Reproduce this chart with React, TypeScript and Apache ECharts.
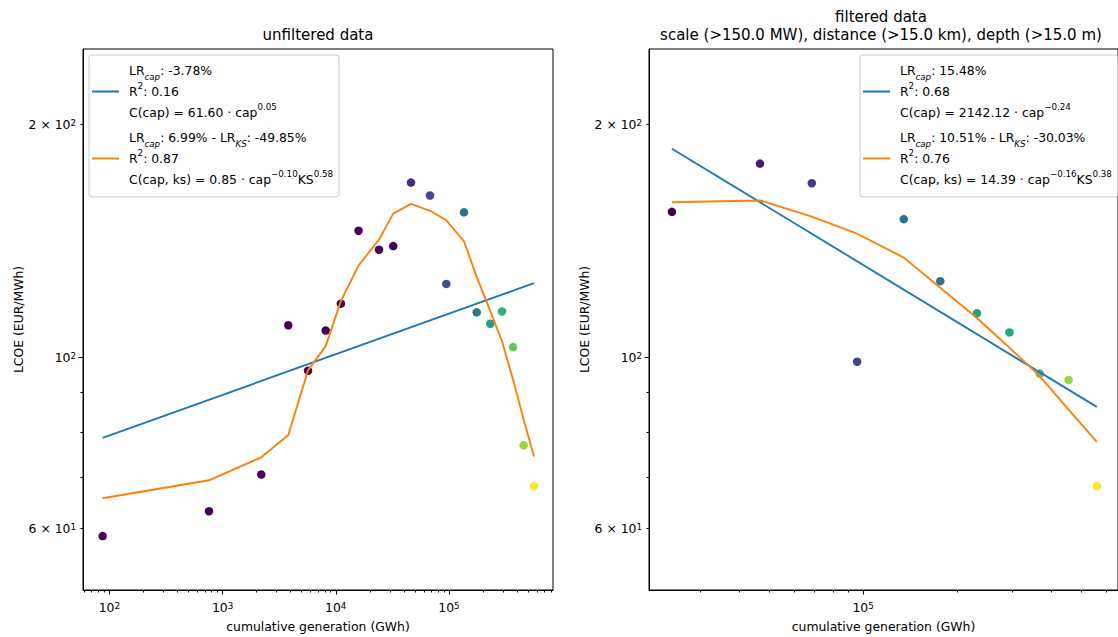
import React, { useEffect, useRef } from "react";
import * as echarts from "echarts";

// ---------------- data: unfiltered panel ----------------
const unfGen = [87.4, 760, 2200, 3810, 5690, 8150, 11100, 15900, 24100, 32200, 46200, 68000, 94700, 135700, 175700, 231600, 293900, 367600, 456800, 563400];
const unfLcoe = [58.7, 63.2, 70.5, 109.9, 96.0, 108.2, 117.2, 145.6, 137.6, 139.1, 168.0, 161.7, 124.3, 153.8, 114.2, 110.4, 114.5, 103.0, 76.9, 68.1];
const unfColour = [0, 0, 0, 0, 0, 0, 0, 0, 0, 0, 0.12, 0.22, 0.26, 0.37, 0.4, 0.56, 0.64, 0.75, 0.84, 1.0];
const unfCapFitGen = [87.4, 563400];
const unfCapFitLcoe = [78.6, 124.6];
const unfCapKsFit = [65.7, 69.3, 74.2, 79.3, 96.1, 103.3, 118.1, 131.3, 141.8, 153.2, 157.7, 154.5, 150.2, 141.1, 126.9, 114.6, 104.8, 93.5, 83.0, 74.4];

// ---------------- data: filtered panel ----------------
const filGen = [24420, 46760, 68530, 95740, 135100, 176800, 231700, 294600, 368300, 455600, 561200];
const filLcoe = [154.0, 177.8, 167.7, 98.6, 150.7, 125.3, 113.9, 107.6, 95.2, 93.4, 68.1];
const filColour = [0, 0.07, 0.17, 0.21, 0.36, 0.38, 0.57, 0.6, 0.69, 0.84, 1.0];
const filCapFitGen = [24420, 561200];
const filCapFitLcoe = [185.8, 86.2];
const filCapKsFit = [158.5, 159.3, 151.8, 144.3, 134.4, 122.9, 112.3, 102.8, 94.5, 85.5, 77.7];

// ---------------- axes ----------------
const yRange = [50, 250];
const unfXRange = [58.6, 829000];
const filXRange = [20620, 656000];
const unfXTickLabels = [1e2, 1e3, 1e4, 1e5];
const filXTickLabels = [1e5];
const yTickLabels = [60, 100, 200];
const yMajorTicks = [100];

// ---------------- texts ----------------
const unfTitle = "unfiltered data";
const filTitle = ["filtered data", "scale (>150.0 MW), distance (>15.0 km), depth (>15.0 m)"];
const xName = "cumulative generation (GWh)";
const yName = "LCOE (EUR/MWh)";
const unfCapLegend = ["LR{sub|cap}: -3.78%", "R{sup|2}: 0.16", "C(cap) = 61.60 · cap{sup|0.05}"];
const unfCapKsLegend = ["LR{sub|cap}: 6.99% - LR{sub|KS}: -49.85%", "R{sup|2}: 0.87", "C(cap, ks) = 0.85 · cap{sup|−0.10}KS{sup|0.58}"];
const filCapLegend = ["LR{sub|cap}: 15.48%", "R{sup|2}: 0.68", "C(cap) = 2142.12 · cap{sup|−0.24}"];
const filCapKsLegend = ["LR{sub|cap}: 10.51% - LR{sub|KS}: -30.03%", "R{sup|2}: 0.76", "C(cap, ks) = 14.39 · cap{sup|−0.16}KS{sup|0.38}"];

const FONT = "DejaVu Sans";
const FS = 12.4;
const BLUE = "#1f77b4";
const ORANGE = "#ff7f0e";
const VIRIDIS = ["#440154", "#482475", "#414487", "#355f8d", "#2a788e", "#21918c", "#22a884", "#44bf70", "#7ad151", "#bddf26", "#fde725"];

const lg = Math.log10;

function minorTicks(range: number[]) {
  const out: number[] = [];
  for (let e = Math.floor(lg(range[0])); e <= Math.ceil(lg(range[1])); e++) {
    for (let m = 2; m <= 9; m++) {
      const v = m * Math.pow(10, e);
      if (v > range[0] && v < range[1]) out.push(v);
    }
  }
  return out;
}

function logLabel(v: number) {
  const e = Math.floor(v + 1e-9);
  const m = Math.round(Math.pow(10, v - e));
  return m === 1 ? `10{sup|${e}}` : `${m} × 10{sup|${e}}`;
}

const labelRich = {
  sup: { fontSize: 8.7, fontFamily: FONT, color: "#000", verticalAlign: "top", lineHeight: 10 },
};

const legendRich = {
  sub: { fontSize: 8.7, fontFamily: FONT, fontStyle: "italic", color: "#000", verticalAlign: "bottom", lineHeight: 11 },
  sup: { fontSize: 8.7, fontFamily: FONT, color: "#000", verticalAlign: "top", lineHeight: 12 },
};

function xAxes(grid: number, range: number[], labels: number[]) {
  const tickStyle = { color: "#000", width: 1 };
  return [
    {
      gridIndex: grid, type: "value", min: lg(range[0]), max: lg(range[1]), position: "bottom",
      axisLine: { show: true, onZero: false, lineStyle: { color: "#000", width: 1 } },
      axisTick: { show: true, customValues: labels.map(lg), length: 4.5, lineStyle: tickStyle },
      axisLabel: { customValues: labels.map(lg), formatter: logLabel, color: "#000", fontFamily: FONT, fontSize: FS, margin: 11, rich: labelRich },
      splitLine: { show: false },
      name: xName, nameLocation: "middle", nameGap: 30,
      nameTextStyle: { fontFamily: FONT, fontSize: FS, color: "#000" },
    },
    {
      gridIndex: grid, type: "value", min: lg(range[0]), max: lg(range[1]), position: "bottom",
      axisLine: { show: false },
      axisTick: { show: true, customValues: minorTicks(range).map(lg), length: 2.5, lineStyle: tickStyle },
      axisLabel: { show: false },
      splitLine: { show: false },
    },
  ];
}

function yAxes(grid: number, nameGap: number) {
  const tickStyle = { color: "#000", width: 1 };
  return [
    {
      gridIndex: grid, type: "value", min: lg(yRange[0]), max: lg(yRange[1]), position: "left",
      axisLine: { show: true, onZero: false, lineStyle: { color: "#000", width: 1 } },
      axisTick: { show: true, customValues: yMajorTicks.map(lg), length: 4.5, lineStyle: tickStyle },
      axisLabel: { customValues: yTickLabels.map(lg), formatter: logLabel, color: "#000", fontFamily: FONT, fontSize: FS, margin: 7, rich: labelRich },
      splitLine: { show: false },
      name: yName, nameLocation: "middle", nameGap,
      nameTextStyle: { fontFamily: FONT, fontSize: FS, color: "#000" },
    },
    {
      gridIndex: grid, type: "value", min: lg(yRange[0]), max: lg(yRange[1]), position: "left",
      axisLine: { show: false },
      axisTick: { show: true, customValues: minorTicks(yRange).filter((v) => !yMajorTicks.includes(v)).map(lg), length: 2.5, lineStyle: tickStyle },
      axisLabel: { show: false },
      splitLine: { show: false },
    },
  ];
}

function legend(left: number, names: string[], colors: string[]) {
  return {
    orient: "vertical", left, top: 55,
    data: names.map((n, i) => ({ name: n, itemStyle: { color: colors[i], borderWidth: 0 } })),
    icon: "rect", itemWidth: 27, itemHeight: 2, itemGap: 4,
    padding: [5, 6, 7, 3],
    backgroundColor: "rgba(255,255,255,0.8)", borderColor: "#cccccc", borderWidth: 1, borderRadius: 3,
    selectedMode: false,
    formatter: (n: string) => LEGEND_TEXT[n],
    textStyle: { fontFamily: FONT, fontSize: FS, color: "#000", lineHeight: 21, padding: [0, 0, 0, 5], rich: legendRich },
  };
}

const LEGEND_TEXT: Record<string, string> = {
  unfCap: unfCapLegend.join("\n"),
  unfCapKs: unfCapKsLegend.join("\n"),
  filCap: filCapLegend.join("\n"),
  filCapKs: filCapKsLegend.join("\n"),
};

function scatter(xi: number, gen: number[], lcoe: number[], col: number[]) {
  return {
    type: "scatter", xAxisIndex: xi, yAxisIndex: xi,
    data: gen.map((g, i) => [lg(g), lg(lcoe[i]), col[i]]),
    symbolSize: 8.5, itemStyle: { opacity: 1 }, z: 2, silent: true,
  };
}

function line(xi: number, name: string, gen: number[], lcoe: number[], color: string) {
  return {
    type: "line", name, xAxisIndex: xi, yAxisIndex: xi,
    data: gen.map((g, i) => [lg(g), lg(lcoe[i])]),
    symbol: "none", lineStyle: { color, width: 1.9 }, itemStyle: { color }, z: 3, silent: true,
  };
}

export default function App() {
  const ref = useRef<HTMLDivElement>(null);
  useEffect(() => {
    if (!ref.current) return;
    const chart = echarts.init(ref.current, undefined, { renderer: "svg" });
    chart.setOption({
      animation: false,
      backgroundColor: "#ffffff",
      textStyle: { fontFamily: FONT },
      grid: [
        { left: 83, top: 49, width: 470, height: 542, show: true, borderColor: "#000", borderWidth: 1, backgroundColor: "transparent" },
        { left: 649, top: 49, width: 476, height: 542, show: true, borderColor: "#000", borderWidth: 1, backgroundColor: "transparent" },
      ],
      xAxis: [...xAxes(0, unfXRange, unfXTickLabels), ...xAxes(1, filXRange, filXTickLabels)],
      yAxis: [...yAxes(0, 58), ...yAxes(1, 50)],
      visualMap: [
        { type: "continuous", show: false, seriesIndex: [0, 3], dimension: 2, min: 0, max: 1, inRange: { color: VIRIDIS } },
      ],
      legend: [
        legend(89, ["unfCap", "unfCapKs"], [BLUE, ORANGE]),
        legend(860, ["filCap", "filCapKs"], [BLUE, ORANGE]),
      ],
      graphic: [
        { type: "text", x: 318, y: 35, style: { text: unfTitle, fontFamily: FONT, fontSize: 15, fill: "#000", align: "center", verticalAlign: "middle" } },
        { type: "text", x: 881, y: 17, style: { text: filTitle[0], fontFamily: FONT, fontSize: 15, fill: "#000", align: "center", verticalAlign: "middle" } },
        { type: "text", x: 881, y: 35, style: { text: filTitle[1], fontFamily: FONT, fontSize: 15, fill: "#000", align: "center", verticalAlign: "middle" } },
      ],
      series: [
        scatter(0, unfGen, unfLcoe, unfColour),
        line(0, "unfCap", unfCapFitGen, unfCapFitLcoe, BLUE),
        line(0, "unfCapKs", unfGen, unfCapKsFit, ORANGE),
        { ...scatter(2, filGen, filLcoe, filColour), yAxisIndex: 2 },
        { ...line(2, "filCap", filCapFitGen, filCapFitLcoe, BLUE), yAxisIndex: 2 },
        { ...line(2, "filCapKs", filGen, filCapKsFit, ORANGE), yAxisIndex: 2 },
      ],
    });
    return () => chart.dispose();
  }, []);
  return <div ref={ref} style={{ position: "absolute", left: 0, top: 0, width: 1118, height: 637 }} />;
}
